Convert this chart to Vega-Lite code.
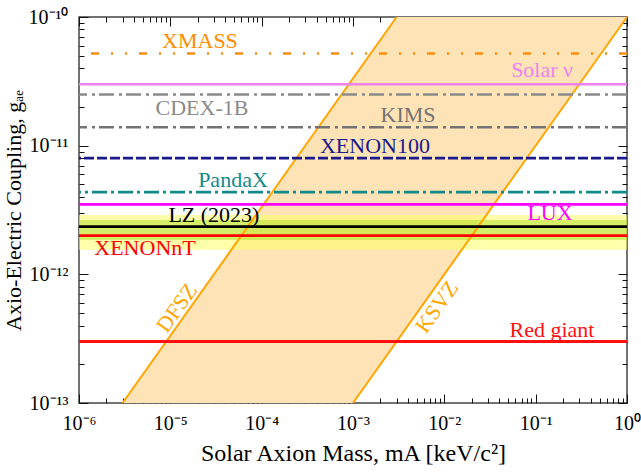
{
  "$schema": "https://vega.github.io/schema/vega-lite/v6.json",
  "width": 548,
  "height": 386,
  "autosize": "none",
  "padding": {"left": 79, "top": 17, "right": 14, "bottom": 70},
  "config": {
    "font": "Liberation Serif",
    "view": {"stroke": "#444444", "strokeWidth": 1.5},
    "axis": {"grid": false, "domain": false, "tickColor": "#111111", "tickWidth": 1, "labelOverlap": false, "labelFlush": false, "labelBound": false}
  },
  "datasets": {
    "band": [
      {"g": 1e-13, "lo": 3e-6, "hi": 1e-3},
      {"g": 1e-10, "lo": 3e-3, "hi": 1}
    ],
    "lzband": [
      {"band": "2 sigma", "lo": 1.55e-12, "hi": 2.89e-12},
      {"band": "1 sigma", "lo": 1.85e-12, "hi": 2.64e-12}
    ],
    "models": [
      {"model": "DFSZ", "m": 3e-6, "g": 1e-13},
      {"model": "DFSZ", "m": 3e-3, "g": 1e-10},
      {"model": "KSVZ", "m": 1e-3, "g": 1e-13},
      {"model": "KSVZ", "m": 1, "g": 1e-10}
    ],
    "lines": [
      {"name": "XMASS", "g": 5.2e-11},
      {"name": "Solar ν", "g": 3.0e-11},
      {"name": "CDEX-1B", "g": 2.5e-11},
      {"name": "KIMS", "g": 1.39e-11},
      {"name": "XENON100", "g": 8.0e-12},
      {"name": "PandaX", "g": 4.35e-12},
      {"name": "LUX", "g": 3.5e-12},
      {"name": "LZ (2023)", "g": 2.35e-12},
      {"name": "XENONnT", "g": 2.0e-12},
      {"name": "Red giant", "g": 3.0e-13}
    ],
    "labels": [
      {"name": "XMASS", "m": 2.11e-5, "g": 6.5e-11},
      {"name": "Solar ν", "m": 0.1175, "g": 3.87e-11},
      {"name": "CDEX-1B", "m": 2.22e-5, "g": 1.96e-11},
      {"name": "KIMS", "m": 4.0e-3, "g": 1.73e-11},
      {"name": "XENON100", "m": 1.74e-3, "g": 1.0e-11},
      {"name": "PandaX", "m": 4.85e-5, "g": 5.41e-12},
      {"name": "LUX", "m": 0.1436, "g": 3.0e-12},
      {"name": "LZ (2023)", "m": 3.0e-5, "g": 2.89e-12},
      {"name": "XENONnT", "m": 5.28e-6, "g": 1.6e-12},
      {"name": "Red giant", "m": 0.151, "g": 3.69e-13}
    ],
    "modelLabels": [
      {"name": "DFSZ", "m": 1.18e-5, "g": 5.47e-13},
      {"name": "KSVZ", "m": 8.3e-3, "g": 5.57e-13}
    ],
    "frame": [
      {"m": 1e-6, "g": 1e-13},
      {"m": 1, "g": 1e-10}
    ]
  },
  "layer": [
    {
      "data": {"name": "frame"},
      "mark": {"type": "point", "opacity": 0},
      "encoding": {
        "y": {
          "field": "g", "type": "quantitative",
          "scale": {"type": "log", "domain": [1e-13, 1e-10], "nice": false},
          "axis": {
            "orient": "left",
            "title": "Axio-Electric Coupling, gₐₑ",
            "titleFontSize": 22, "titleFontWeight": "normal", "titleColor": "#000000", "titlePadding": 3,
            "values": [1e-13, 2e-13, 3e-13, 4e-13, 5e-13, 6e-13, 7e-13, 8e-13, 9e-13, 1e-12, 2e-12, 3e-12, 4e-12, 5e-12, 6e-12, 7e-12, 8e-12, 9e-12, 1e-11, 2e-11, 3e-11, 4e-11, 5e-11, 6e-11, 7e-11, 8e-11, 9e-11, 1e-10],
            "labelFontSize": 20, "labelColor": "#000000", "labelPadding": 20,
            "labelExpr": "abs(log(datum.value)/LN10 - round(log(datum.value)/LN10)) > 0.01 ? '' : '10' + replace(replace(replace(replace(replace(replace(replace(replace(toString(round(log(datum.value)/LN10)), '-', '⁻'), regexp('1','g'), '¹'), '0', '⁰'), '2', '²'), '3', '³'), '6', '⁶'), '4', '⁴'), '5', '⁵')",
            "tickSize": {"condition": {"test": "abs(log(datum.value)/LN10 - round(log(datum.value)/LN10)) < 0.01", "value": -9}, "value": -5}
          }
        },
        "x": {
          "field": "m", "type": "quantitative",
          "scale": {"type": "log", "domain": [1e-6, 1], "nice": false},
          "axis": {
            "orient": "bottom",
            "title": "Solar Axion Mass, mA [keV/c²]",
            "titleFontSize": 24, "titleFontWeight": "normal", "titleColor": "#000000", "titlePadding": 4,
            "values": [1e-6, 2e-6, 3e-6, 4e-6, 5e-6, 6e-6, 7e-6, 8e-6, 9e-6, 1e-5, 2e-5, 3e-5, 4e-5, 5e-5, 6e-5, 7e-5, 8e-5, 9e-5, 1e-4, 2e-4, 3e-4, 4e-4, 5e-4, 6e-4, 7e-4, 8e-4, 9e-4, 1e-3, 2e-3, 3e-3, 4e-3, 5e-3, 6e-3, 7e-3, 8e-3, 9e-3, 0.01, 0.02, 0.03, 0.04, 0.05, 0.06, 0.07, 0.08, 0.09, 0.1, 0.2, 0.3, 0.4, 0.5, 0.6, 0.7, 0.8, 0.9, 1],
            "labelFontSize": 20, "labelColor": "#000000", "labelPadding": 19,
            "labelExpr": "abs(log(datum.value)/LN10 - round(log(datum.value)/LN10)) > 0.01 ? '' : '10' + replace(replace(replace(replace(replace(replace(replace(replace(toString(round(log(datum.value)/LN10)), '-', '⁻'), regexp('1','g'), '¹'), '0', '⁰'), '2', '²'), '3', '³'), '6', '⁶'), '4', '⁴'), '5', '⁵')",
            "tickSize": {"condition": {"test": "abs(log(datum.value)/LN10 - round(log(datum.value)/LN10)) < 0.01", "value": -9}, "value": -5}
          }
        }
      }
    },
    {
      "data": {"name": "band"},
      "mark": {"type": "area", "orient": "horizontal", "color": "#fde3b6"},
      "encoding": {
        "y": {"field": "g", "type": "quantitative", "axis": null},
        "x": {"field": "lo", "type": "quantitative", "axis": null},
        "x2": {"field": "hi"}
      }
    },
    {
      "data": {"name": "lzband"},
      "mark": {"type": "rect", "fillOpacity": 0.55},
      "encoding": {
        "x": {"datum": 1e-6, "type": "quantitative", "axis": null},
        "x2": {"datum": 1},
        "y": {"field": "lo", "type": "quantitative", "axis": null},
        "y2": {"field": "hi"},
        "fill": {"field": "band", "type": "nominal", "legend": null, "scale": {"domain": ["2 sigma", "1 sigma"], "range": ["#ffff66", "#b0e030"]}}
      }
    },
    {
      "data": {"name": "models"},
      "mark": {"type": "line", "color": "#ffa500", "strokeWidth": 2},
      "encoding": {
        "x": {"field": "m", "type": "quantitative", "axis": null},
        "y": {"field": "g", "type": "quantitative", "axis": null},
        "detail": {"field": "model"}
      }
    },
    {
      "data": {"name": "lines"},
      "mark": {"type": "rule"},
      "encoding": {
        "y": {"field": "g", "type": "quantitative", "axis": null},
        "color": {"field": "name", "type": "nominal", "legend": null,
          "scale": {"domain": ["XMASS", "Solar ν", "CDEX-1B", "KIMS", "XENON100", "PandaX", "LUX", "LZ (2023)", "XENONnT", "Red giant", "DFSZ", "KSVZ"],
                    "range": ["#ff8c00", "#ee82ee", "#8a8a8a", "#737373", "#1a1a8c", "#128a8a", "#ff00ff", "#000000", "#ff0000", "#ff1010", "#ffa500", "#ffa500"]}},
        "strokeDash": {"field": "name", "type": "nominal", "legend": null,
          "scale": {"domain": ["XMASS", "Solar ν", "CDEX-1B", "KIMS", "XENON100", "PandaX", "LUX", "LZ (2023)", "XENONnT", "Red giant"],
                    "range": [[8, 12, 2, 12, 2, 12], [1, 0], [15, 4, 3, 5], [15, 4, 3, 5], [10, 3], [15, 4, 3, 4], [1, 0], [1, 0], [1, 0], [1, 0]]}},
        "strokeWidth": {"field": "name", "type": "nominal", "legend": null,
          "scale": {"domain": ["XMASS", "Solar ν", "CDEX-1B", "KIMS", "XENON100", "PandaX", "LUX", "LZ (2023)", "XENONnT", "Red giant"],
                    "range": [2.5, 3, 2.5, 2.5, 2.5, 2.5, 2.5, 3.5, 2.5, 2]}}
      }
    },
    {
      "data": {"name": "labels"},
      "mark": {"type": "text", "fontSize": 22, "align": "center", "baseline": "middle"},
      "encoding": {
        "x": {"field": "m", "type": "quantitative", "axis": null},
        "y": {"field": "g", "type": "quantitative", "axis": null},
        "text": {"field": "name"},
        "color": {"field": "name", "type": "nominal", "legend": null}
      }
    },
    {
      "data": {"name": "modelLabels"},
      "mark": {"type": "text", "fontSize": 22, "align": "center", "baseline": "middle", "angle": 305.4},
      "encoding": {
        "x": {"field": "m", "type": "quantitative", "axis": null},
        "y": {"field": "g", "type": "quantitative", "axis": null},
        "text": {"field": "name"},
        "color": {"field": "name", "type": "nominal", "legend": null}
      }
    },
    {
      "data": {"name": "frame"},
      "mark": {"type": "point", "opacity": 0},
      "encoding": {
        "x": {
          "field": "m", "type": "quantitative",
          "axis": {
            "orient": "top", "title": null, "labels": false,
            "values": [1e-6, 2e-6, 3e-6, 4e-6, 5e-6, 6e-6, 7e-6, 8e-6, 9e-6, 1e-5, 2e-5, 3e-5, 4e-5, 5e-5, 6e-5, 7e-5, 8e-5, 9e-5, 1e-4, 2e-4, 3e-4, 4e-4, 5e-4, 6e-4, 7e-4, 8e-4, 9e-4, 1e-3, 2e-3, 3e-3, 4e-3, 5e-3, 6e-3, 7e-3, 8e-3, 9e-3, 0.01, 0.02, 0.03, 0.04, 0.05, 0.06, 0.07, 0.08, 0.09, 0.1, 0.2, 0.3, 0.4, 0.5, 0.6, 0.7, 0.8, 0.9, 1],
            "tickSize": {"condition": {"test": "abs(log(datum.value)/LN10 - round(log(datum.value)/LN10)) < 0.01", "value": -9}, "value": -5}
          }
        },
        "y": {
          "field": "g", "type": "quantitative",
          "axis": {
            "orient": "right", "title": null, "labels": false,
            "values": [1e-13, 2e-13, 3e-13, 4e-13, 5e-13, 6e-13, 7e-13, 8e-13, 9e-13, 1e-12, 2e-12, 3e-12, 4e-12, 5e-12, 6e-12, 7e-12, 8e-12, 9e-12, 1e-11, 2e-11, 3e-11, 4e-11, 5e-11, 6e-11, 7e-11, 8e-11, 9e-11, 1e-10],
            "tickSize": {"condition": {"test": "abs(log(datum.value)/LN10 - round(log(datum.value)/LN10)) < 0.01", "value": -9}, "value": -5}
          }
        }
      }
    }
  ],
  "resolve": {"axis": {"x": "independent", "y": "independent"}}
}
